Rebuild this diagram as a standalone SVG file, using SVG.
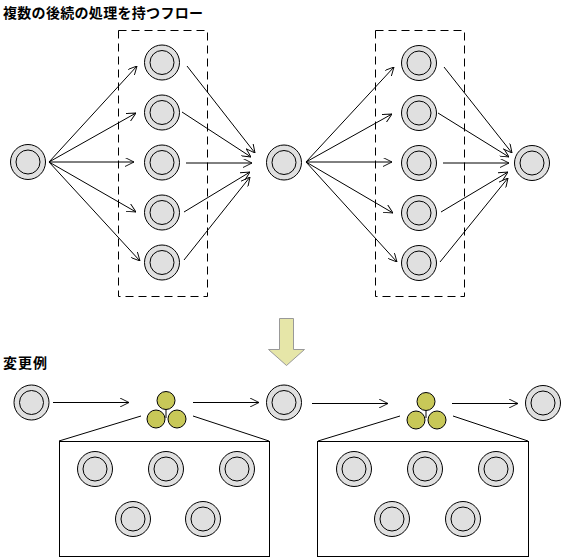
<svg xmlns="http://www.w3.org/2000/svg" width="564" height="559" viewBox="0 0 564 559">
<defs>
<style>
.t{font-family:"Noto Sans CJK JP","Noto Sans CJK SC",sans-serif;font-weight:bold;font-size:14px;fill:#000}
.o{fill:#e0e0e0;stroke:#000;stroke-width:1}
.i{fill:#e0e0e0;stroke:#000;stroke-width:1}
.y{fill:#c8c858;stroke:#000;stroke-width:1}
.c{fill:none;stroke:#000;stroke-width:1}
.a{fill:none;stroke:#000;stroke-width:1;marker-end:url(#ah)}
.d{fill:none;stroke:#000;stroke-width:1;stroke-dasharray:8,5}
</style>
<marker id="ah" viewBox="0 0 10 10" refX="10" refY="5" markerWidth="9" markerHeight="9" markerUnits="userSpaceOnUse" orient="auto">
<path d="M0,0 L10,5 L0,10" fill="none" stroke="#000" stroke-width="1"/>
</marker>
<g id="node"><circle class="o" r="17.5"/><circle class="i" r="12"/></g>
</defs>
<rect width="564" height="559" fill="#fff"/>
<text class="t" x="3" y="18" textLength="200">複数の後続の処理を持つフロー</text>
<text class="t" x="3" y="368" textLength="44">変更例</text>

<g id="group1"><rect class="d" x="118.5" y="30.5" width="89" height="266"/></g>
<g id="group2"><rect class="d" x="375.5" y="30.5" width="89" height="266"/></g>

<g id="connectors">
<line class="a" x1="49" y1="162" x2="137" y2="66"/>
<line class="a" x1="49" y1="162" x2="136" y2="113"/>
<line class="a" x1="49" y1="162" x2="134" y2="162"/>
<line class="a" x1="49" y1="162" x2="136" y2="212"/>
<line class="a" x1="49" y1="162" x2="140" y2="261"/>
<line class="a" x1="187" y1="66" x2="255" y2="153"/>
<line class="a" x1="182" y1="112" x2="251" y2="157"/>
<line class="a" x1="186" y1="163" x2="252" y2="163"/>
<line class="a" x1="184" y1="212" x2="250" y2="172"/>
<line class="a" x1="184" y1="260" x2="250" y2="177"/>

<line class="a" x1="306" y1="162" x2="394" y2="67"/>
<line class="a" x1="306" y1="162" x2="392" y2="114"/>
<line class="a" x1="306" y1="162" x2="392" y2="162"/>
<line class="a" x1="306" y1="162" x2="393" y2="213"/>
<line class="a" x1="306" y1="162" x2="397" y2="262"/>
<line class="a" x1="444" y1="67" x2="512" y2="153"/>
<line class="a" x1="438" y1="113" x2="509" y2="157"/>
<line class="a" x1="443" y1="163" x2="509" y2="163"/>
<line class="a" x1="441" y1="212" x2="508" y2="172"/>
<line class="a" x1="440" y1="262" x2="508" y2="178"/>

<line class="a" x1="53" y1="402.5" x2="129" y2="402.5"/>
<line class="a" x1="193" y1="402.5" x2="259" y2="402.5"/>
<line class="a" x1="312" y1="403.5" x2="388" y2="403.5"/>
<line class="a" x1="452" y1="403.5" x2="518" y2="403.5"/>

<line class="c" x1="141" y1="416" x2="59" y2="441"/>
<line class="c" x1="193" y1="416" x2="269" y2="441"/>
<line class="c" x1="400" y1="416" x2="318" y2="441"/>
<line class="c" x1="453" y1="416" x2="528" y2="441"/>
</g>

<g id="src1"><use href="#node" x="28" y="162"/></g>
<g id="a1"><use href="#node" x="162" y="62.5"/></g>
<g id="a2"><use href="#node" x="162" y="112.5"/></g>
<g id="a3"><use href="#node" x="162" y="162.5"/></g>
<g id="a4"><use href="#node" x="162" y="212.5"/></g>
<g id="a5"><use href="#node" x="162" y="262.5"/></g>
<g id="mid"><use href="#node" x="284" y="162.5"/></g>
<g id="b1"><use href="#node" x="419" y="63"/></g>
<g id="b2"><use href="#node" x="419" y="113"/></g>
<g id="b3"><use href="#node" x="419" y="163"/></g>
<g id="b4"><use href="#node" x="419" y="213"/></g>
<g id="b5"><use href="#node" x="419" y="263"/></g>
<g id="end1"><use href="#node" x="532" y="163"/></g>

<g id="down-arrow"><path d="M279.5,318.5 H293.5 V349.5 H304.5 L286.5,365.5 L268.5,349.5 H279.5 Z" fill="#e6e6a8" stroke="#999" stroke-width="1"/></g>

<g id="s1"><use href="#node" x="31.5" y="402.5"/></g>
<g id="cl1">
<line class="c" x1="166" y1="409" x2="166" y2="418"/>
<circle class="y" cx="166" cy="400.5" r="9"/>
<circle class="y" cx="156" cy="419" r="9"/>
<circle class="y" cx="177" cy="419" r="9"/>
</g>
<g id="s2"><use href="#node" x="284" y="402.5"/></g>
<g id="cl2">
<line class="c" x1="426" y1="409" x2="426" y2="418"/>
<circle class="y" cx="426" cy="401.5" r="9"/>
<circle class="y" cx="416" cy="420" r="9"/>
<circle class="y" cx="437" cy="420" r="9"/>
</g>
<g id="s3"><use href="#node" x="543" y="403"/></g>

<g id="box1">
<rect class="c" x="59.5" y="441.5" width="210" height="115"/>
<use href="#node" x="95" y="469"/>
<use href="#node" x="166" y="469"/>
<use href="#node" x="237" y="469"/>
<use href="#node" x="133" y="519"/>
<use href="#node" x="203" y="519"/>
</g>
<g id="box2">
<rect class="c" x="317.5" y="441.5" width="211" height="115"/>
<use href="#node" x="354" y="469"/>
<use href="#node" x="425" y="469"/>
<use href="#node" x="496" y="469"/>
<use href="#node" x="392" y="519"/>
<use href="#node" x="463" y="519"/>
</g>
</svg>
